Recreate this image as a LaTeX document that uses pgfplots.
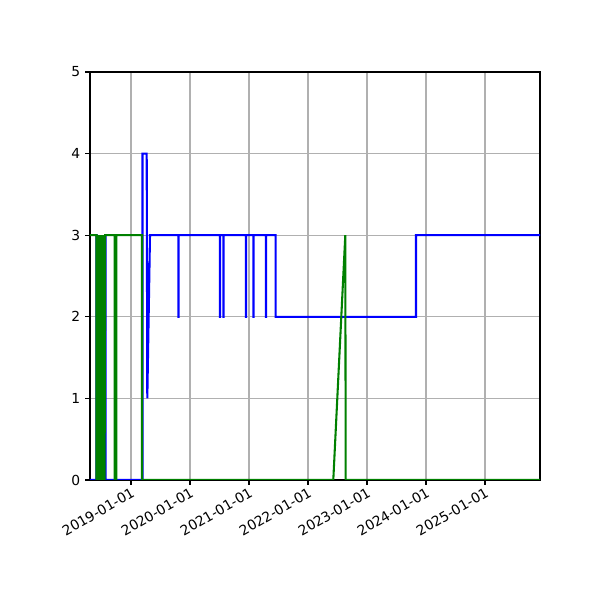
\documentclass[border=0pt]{standalone}
\usepackage{fontspec}
\setmainfont{DejaVu Sans}
\usepackage{pgfplots}
\pgfplotsset{compat=1.18}
\definecolor{mplgreen}{HTML}{008000}
\definecolor{mplblue}{HTML}{0000FF}
\definecolor{gridgray}{HTML}{B0B0B0}
\begin{document}
\begin{tikzpicture}
\begin{axis}[
    scale only axis,
    width=4.5in,
    height=4.08in,
    xmin=2018.3051, xmax=2025.9322,
    ymin=0, ymax=5,
    xtick={2019,2020,2021,2022,2023,2024,2025},
    xticklabels={2019-01-01,2020-01-01,2021-01-01,2022-01-01,2023-01-01,2024-01-01,2025-01-01},
    ytick={0,1,2,3,4,5},
    xtick pos=bottom,
    ytick pos=left,
    grid=major,
    grid style={gridgray, line width=0.8pt},
    axis line style={line width=0.8pt},
    tick align=outside,
    major tick length=3.5pt,
    tick style={black, line width=0.8pt},
    xticklabel style={rotate=30, anchor=north east, inner sep=1pt},
    /pgf/number format/assume math mode=true,
]

% blue series
\addplot[mplblue, line width=1.5pt] coordinates {
    (2018.3051,0) (2018.4119,0) (2018.4119,3) (2018.4153,3) (2018.4153,0)
    (2018.5644,0) (2018.5644,3) (2018.5678,3) (2018.5678,0)
    (2019.1949,0) (2019.1949,4) (2019.2661,4) (2019.2763,1) (2019.3220,3)
    (2019.8017,3) (2019.8017,2) (2019.8051,2) (2019.8051,3)
    (2020.5085,3) (2020.5085,2) (2020.5119,2) (2020.5119,3)
    (2020.5644,3) (2020.5644,2) (2020.5678,2) (2020.5678,3)
    (2020.9492,3) (2020.9492,2) (2020.9526,2) (2020.9526,3)
    (2021.0729,3) (2021.0729,2) (2021.0763,2) (2021.0763,3)
    (2021.2881,3) (2021.2881,2) (2021.2915,2) (2021.2915,3)
    (2021.4525,3) (2021.4525,2)
    (2023.8305,2) (2023.8305,3) (2025.9322,3)
};

% green series
\addplot[mplgreen, line width=1.5pt] coordinates {
    (2018.3051,3) (2018.4153,3) (2018.4153,0) (2018.4237,3) (2018.4339,0)
    (2018.4458,3) (2018.4576,0) (2018.4695,3) (2018.4814,0) (2018.4932,3)
    (2018.5051,0) (2018.5169,3) (2018.5288,0) (2018.5407,3) (2018.5525,0)
    (2018.5627,3)
    (2018.7237,3) (2018.7237,0) (2018.7508,0) (2018.7508,3)
    (2019.1864,3) (2019.1864,0)
    (2022.4288,0) (2022.6322,3) (2022.6390,0) (2025.9322,0)
};

\end{axis}
\path[use as bounding box] (current axis.south west) ++(-0.9in,-1.2in) rectangle ++(6in,6in);
\end{tikzpicture}
\end{document}
